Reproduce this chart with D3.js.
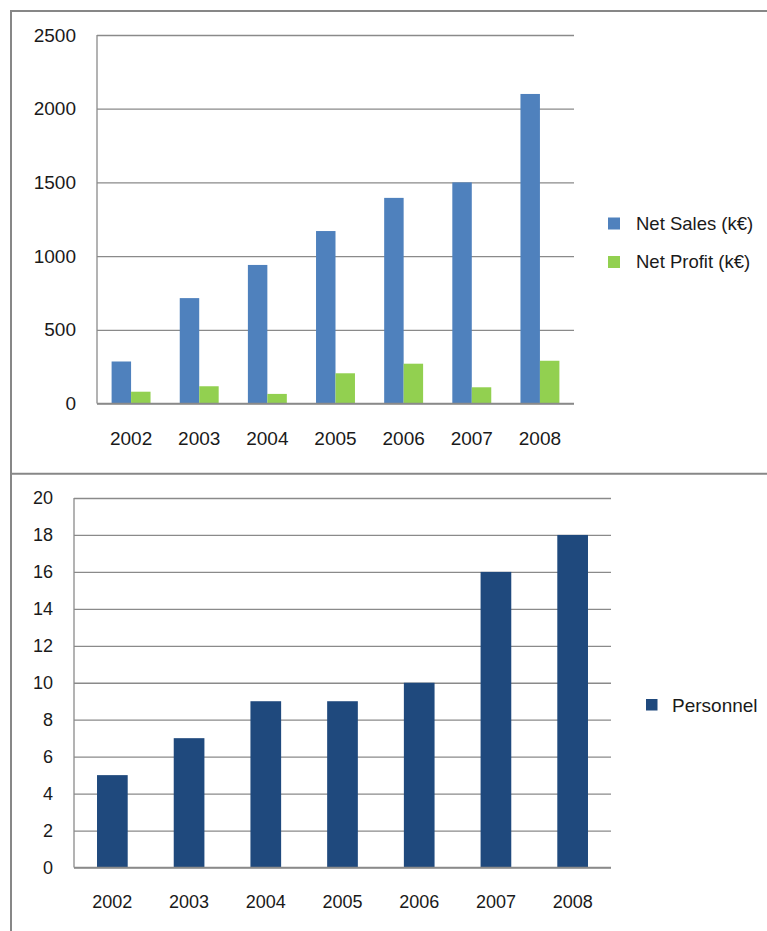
<!DOCTYPE html>
<html>
<head>
<meta charset="utf-8">
<script src="https://cdn.jsdelivr.net/npm/d3@7"></script>
<style>
  html, body { margin: 0; padding: 0; background: #fff; }
  svg { display: block; }
  text { font-family: "Liberation Sans", Arial, sans-serif; fill: #1a1a1a; }
</style>
</head>
<body>
<svg id="chart" width="767" height="931"></svg>
<script>
// ---- data ----
const years = ["2002", "2003", "2004", "2005", "2006", "2007", "2008"];
const seriesNames = ["Net Sales (k€)", "Net Profit (k€)"];
const netSales = [285, 715, 940, 1170, 1395, 1500, 2100];
const netProfit = [80, 117, 65, 205, 270, 110, 290];
const salesTicks = [0, 500, 1000, 1500, 2000, 2500];
const personnelName = "Personnel";
const personnel = [5, 7, 9, 9, 10, 16, 18];
const personnelTicks = [0, 2, 4, 6, 8, 10, 12, 14, 16, 18, 20];

const colors = { sales: "#4F81BD", profit: "#92D050", personnel: "#1F497D" };
const gridColor = "#8a8a8a";
const frameColor = "#878787";
const fmt = d3.format("d");

const svg = d3.select("#chart");

// ---- frame ----
svg.append("line").attr("x1", 11).attr("x2", 11).attr("y1", 10).attr("y2", 931)
  .attr("stroke", frameColor).attr("stroke-width", 2);
svg.append("line").attr("x1", 10).attr("x2", 767).attr("y1", 11).attr("y2", 11)
  .attr("stroke", frameColor).attr("stroke-width", 2);
svg.append("line").attr("x1", 10).attr("x2", 767).attr("y1", 473.7).attr("y2", 473.7)
  .attr("stroke", frameColor).attr("stroke-width", 2);

function styleYAxis(g) {
  g.select(".domain").remove();
  g.selectAll(".tick line").attr("stroke", gridColor).attr("stroke-width", 1.3);
  g.selectAll(".tick text").attr("fill", "#1a1a1a");
}

// ================= TOP CHART =================
{
  const left = 97, right = 574, top = 35, bottom = 403.5;
  const x0 = d3.scaleBand().domain(years).range([left, right])
    .paddingInner(1.5 / 3.5).paddingOuter(0.75 / 3.5);
  const x1 = d3.scaleBand().domain(["sales", "profit"]).range([0, x0.bandwidth()]);
  const y = d3.scaleLinear().domain([0, 2500]).range([bottom, top]);

  const gy = svg.append("g").attr("transform", `translate(${left},0)`)
    .call(d3.axisLeft(y).tickValues(salesTicks).tickFormat(fmt).tickSize(-(right - left)).tickPadding(21))
    .attr("font-size", 19).attr("font-family", "Liberation Sans, Arial, sans-serif");
  styleYAxis(gy);

  svg.append("line").attr("x1", left).attr("x2", left).attr("y1", top).attr("y2", bottom)
    .attr("stroke", gridColor).attr("stroke-width", 1.3);

  const rows = years.map((yr, i) => ({ yr, sales: netSales[i], profit: netProfit[i] }));
  const grp = svg.append("g");
  ["sales", "profit"].forEach(k => {
    grp.selectAll("rect." + k).data(rows).enter().append("rect")
      .attr("class", k)
      .attr("x", d => x0(d.yr) + x1(k))
      .attr("width", x1.bandwidth())
      .attr("y", d => y(d[k]))
      .attr("height", d => y(0) - y(d[k]))
      .attr("fill", colors[k]);
  });

  svg.append("line").attr("x1", left).attr("x2", right).attr("y1", bottom).attr("y2", bottom)
    .attr("stroke", gridColor).attr("stroke-width", 1.3);

  const gx = svg.append("g").attr("transform", `translate(0,${bottom})`)
    .call(d3.axisBottom(x0).tickSize(0))
    .attr("font-size", 19).attr("font-family", "Liberation Sans, Arial, sans-serif");
  gx.select(".domain").remove();
  gx.selectAll(".tick text").attr("y", 35).attr("dy", "0.35em").attr("fill", "#1a1a1a");

  const leg = svg.append("g");
  const legY = [223.5, 262];
  ["sales", "profit"].forEach((k, i) => {
    leg.append("rect").attr("x", 608).attr("y", legY[i] - 6).attr("width", 12).attr("height", 12)
      .attr("fill", colors[k]);
    leg.append("text").attr("x", 636).attr("y", legY[i]).attr("dy", "0.35em")
      .attr("font-size", 18.5).text(seriesNames[i]);
  });
}

// ================= BOTTOM CHART =================
{
  const left = 74, right = 611, top = 498, bottom = 867.5;
  const x = d3.scaleBand().domain(years).range([left, right])
    .paddingInner(1.5 / 2.5).paddingOuter(0.75 / 2.5);
  const y = d3.scaleLinear().domain([0, 20]).range([bottom, top]);

  const gy = svg.append("g").attr("transform", `translate(${left},0)`)
    .call(d3.axisLeft(y).tickValues(personnelTicks).tickFormat(fmt).tickSize(-(right - left)).tickPadding(21))
    .attr("font-size", 18).attr("font-family", "Liberation Sans, Arial, sans-serif");
  styleYAxis(gy);

  svg.append("line").attr("x1", left).attr("x2", left).attr("y1", top).attr("y2", bottom)
    .attr("stroke", gridColor).attr("stroke-width", 1.3);

  svg.append("g").selectAll("rect").data(years).enter().append("rect")
    .attr("x", d => x(d))
    .attr("width", x.bandwidth())
    .attr("y", (d, i) => y(personnel[i]))
    .attr("height", (d, i) => y(0) - y(personnel[i]))
    .attr("fill", colors.personnel);

  svg.append("line").attr("x1", left).attr("x2", right).attr("y1", bottom).attr("y2", bottom)
    .attr("stroke", gridColor).attr("stroke-width", 1.3);

  const gx = svg.append("g").attr("transform", `translate(0,${bottom})`)
    .call(d3.axisBottom(x).tickSize(0))
    .attr("font-size", 18).attr("font-family", "Liberation Sans, Arial, sans-serif");
  gx.select(".domain").remove();
  gx.selectAll(".tick text").attr("y", 34.5).attr("dy", "0.35em").attr("fill", "#1a1a1a");

  svg.append("rect").attr("x", 646).attr("y", 699).attr("width", 11.5).attr("height", 11.5)
    .attr("fill", colors.personnel);
  svg.append("text").attr("x", 672).attr("y", 705).attr("dy", "0.35em")
    .attr("font-size", 19).text(personnelName);
}
</script>
</body>
</html>
